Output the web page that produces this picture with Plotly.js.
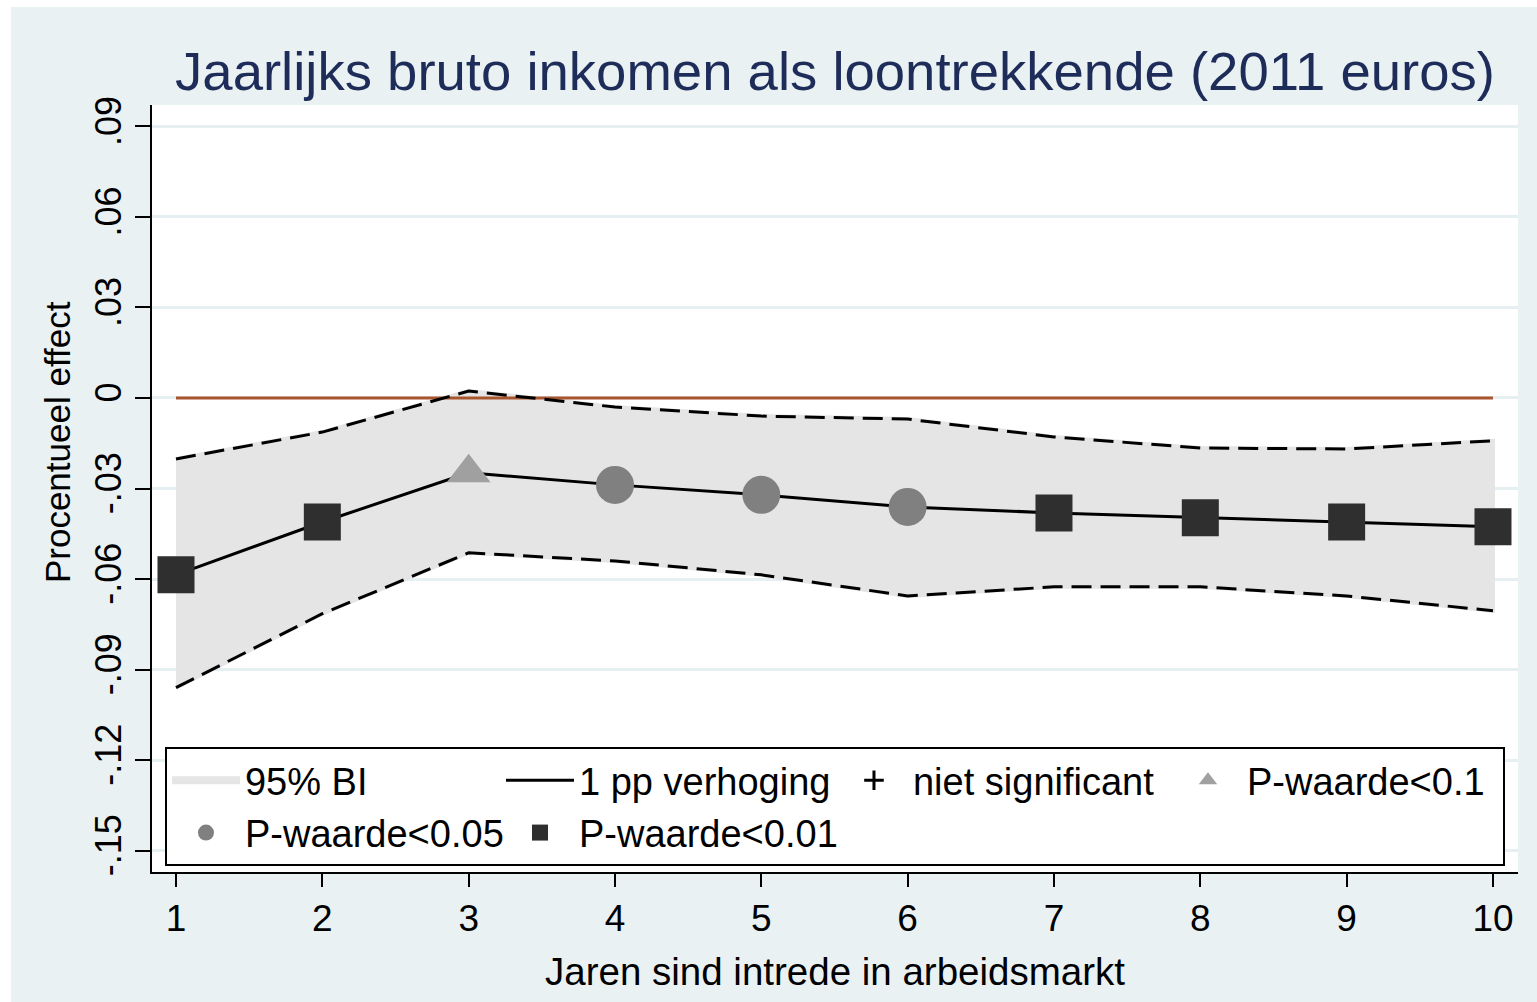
<!DOCTYPE html>
<html>
<head>
<meta charset="utf-8">
<script src="https://cdn.plot.ly/plotly-3.0.1.min.js"></script>
<style>
  html, body { margin: 0; padding: 0; background: #ffffff; }
  #chart { position: absolute; left: 11px; top: 7px; width: 1526px; height: 995px; }
</style>
</head>
<body>
<div id="chart"></div>
<script>
// ---- data ----
const years = [1, 2, 3, 4, 5, 6, 7, 8, 9, 10];
const estimate = [-0.0586, -0.0411, -0.0248, -0.0288, -0.0321, -0.0361, -0.0381, -0.0397, -0.0411, -0.0427];
const ciUpper  = [-0.0202, -0.0113, 0.0023, -0.0030, -0.0060, -0.0070, -0.0129, -0.0166, -0.0169, -0.0142];
const ciLower  = [-0.0960, -0.0715, -0.0513, -0.0540, -0.0586, -0.0656, -0.0626, -0.0626, -0.0656, -0.0705];
const significance = ['p01', 'p01', 'p10', 'p05', 'p05', 'p05', 'p01', 'p01', 'p01', 'p01'];
const zeroLine = [0, 0];
const zeroLineX = [1, 10];

const yTickVals = [-0.15, -0.12, -0.09, -0.06, -0.03, 0, 0.03, 0.06, 0.09];
const yTickText = ['-.15', '-.12', '-.09', '-.06', '-.03', '0', '.03', '.06', '.09'];
const xTickVals = years;

const FONT = 'Liberation Sans, Arial, Helvetica, sans-serif';

function pick(arr, cat) {
  return arr.filter((v, i) => significance[i] === cat);
}

const traces = [];

// 95% confidence band (polygon: upper then lower reversed)
traces.push({
  x: years.concat(years.slice().reverse()),
  y: ciUpper.concat(ciLower.slice().reverse()),
  type: 'scatter', mode: 'lines', fill: 'toself',
  fillcolor: '#e5e5e5',
  line: { color: '#e5e5e5', width: 4 },
  name: '95% BI', legendrank: 1, hoverinfo: 'skip'
});

// zero reference line
traces.push({
  x: zeroLineX, y: zeroLine, type: 'scatter', mode: 'lines',
  line: { color: '#a9552e', width: 3 }, showlegend: false, hoverinfo: 'skip'
});

// dashed CI bounds
[ciUpper, ciLower].forEach(arr => traces.push({
  x: years, y: arr, type: 'scatter', mode: 'lines',
  line: { color: '#000000', width: 3, dash: '20px,9px' },
  showlegend: false, hoverinfo: 'skip'
}));

// estimate line
traces.push({
  x: years, y: estimate, type: 'scatter', mode: 'lines',
  line: { color: '#000000', width: 3 },
  name: '1 pp verhoging', legendrank: 2
});

// significance markers
const markerDefs = [
  { cat: 'ns',  name: 'niet significant', symbol: 'cross-thin', color: '#000000', size: 14, rank: 3 },
  { cat: 'p10', name: 'P-waarde<0.1',  symbol: 'triangle-up', color: '#a0a0a0', size: 38, rank: 4 },
  { cat: 'p05', name: 'P-waarde<0.05', symbol: 'circle',      color: '#808080', size: 38, rank: 5 },
  { cat: 'p01', name: 'P-waarde<0.01', symbol: 'square',      color: '#2f2f2f', size: 37, rank: 6 }
];
markerDefs.forEach(d => {
  const xs = pick(years, d.cat);
  const ys = pick(estimate, d.cat);
  traces.push({
    x: xs.length ? xs : [null], y: ys.length ? ys : [null],
    type: 'scatter', mode: 'markers',
    marker: { symbol: d.symbol, color: d.color, size: d.size,
              line: { color: d.color, width: d.symbol === 'cross-thin' ? 3 : 0 } },
    name: d.name, legendrank: d.rank
  });
});

const layout = {
  width: 1526, height: 995,
  margin: { l: 141, r: 19, t: 98, b: 130 },
  paper_bgcolor: '#eaf1f3',
  plot_bgcolor: '#ffffff',
  font: { family: FONT, size: 35, color: '#000000' },
  title: {
    text: 'Jaarlijks bruto inkomen als loontrekkende (2011 euros)',
    font: { family: FONT, size: 54.5, color: '#1e2c5a' },
    xref: 'paper', x: 0.5, xanchor: 'center',
    yref: 'container', y: 1 - 64 / 995, yanchor: 'middle'
  },
  xaxis: {
    range: [0.836, 10.171],
    tickmode: 'array', tickvals: xTickVals,
    ticks: 'outside', ticklen: 13, tickwidth: 2, tickcolor: '#000000',
    showline: true, linecolor: '#000000', linewidth: 2,
    showgrid: false, zeroline: false,
    tickfont: { family: FONT, size: 37, color: '#000000' },
    title: { text: 'Jaren sind intrede in arbeidsmarkt', standoff: 20,
             font: { family: FONT, size: 38.5, color: '#000000' } }
  },
  yaxis: {
    range: [-0.1571, 0.0971],
    tickmode: 'array', tickvals: yTickVals, ticktext: yTickText, tickangle: -90,
    ticks: 'outside', ticklen: 15, tickwidth: 2, tickcolor: '#000000',
    showline: true, linecolor: '#000000', linewidth: 2,
    showgrid: true, gridcolor: '#e6eff2', gridwidth: 3, zeroline: false,
    tickfont: { family: FONT, size: 36, color: '#000000' }
  },
  annotations: [{
    text: 'Procentueel effect', textangle: -90,
    xref: 'paper', yref: 'paper', x: -0.0695, y: 0.5606,
    xanchor: 'center', yanchor: 'middle', showarrow: false,
    font: { family: FONT, size: 35, color: '#000000' }
  }],
  showlegend: true,
  legend: {
    orientation: 'h',
    x: 0.0095, xanchor: 'left',
    y: 0.163, yanchor: 'top',
    bgcolor: '#ffffff', bordercolor: '#000000', borderwidth: 2,
    font: { family: FONT, size: 38, color: '#000000' },
    itemwidth: 68, entrywidth: 251, itemsizing: 'trace',
    traceorder: 'normal'
  }
};

Plotly.newPlot('chart', traces, layout, { displayModeBar: false, staticPlot: true });
</script>
</body>
</html>
